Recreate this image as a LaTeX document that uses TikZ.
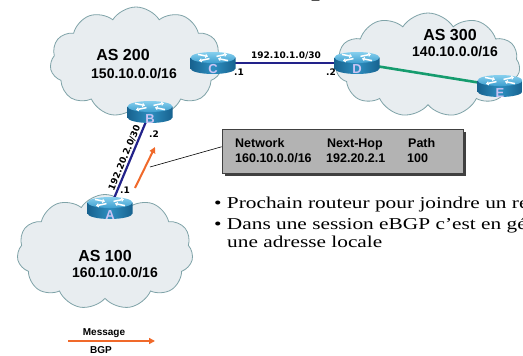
\documentclass[tikz,border=0pt]{standalone}
\usepackage{fontspec}
\setmainfont{Liberation Sans}
\newfontfamily\bulletfont[FakeStretch=1.285]{Liberation Serif}
\newfontfamily\titlefont{Liberation Serif}
\newfontfamily\smallfont{DejaVu Sans}
\usetikzlibrary{shapes.symbols,arrows.meta,calc}
\definecolor{cloudfill}{HTML}{E8EDF0}
\definecolor{cloudline}{HTML}{7FA3A8}
\definecolor{rtop}{HTML}{3E9FCF}
\definecolor{rtoplight}{HTML}{86CFEE}
\definecolor{rside}{HTML}{2E8FC0}
\definecolor{rsidedark}{HTML}{17628F}
\definecolor{rletter}{HTML}{CBC4F4}
\definecolor{navy}{HTML}{22228A}
\definecolor{linkgreen}{HTML}{159C6E}
\definecolor{bgporange}{HTML}{F0692A}
\definecolor{tablegray}{HTML}{B3B3B3}
\definecolor{shadowgray}{HTML}{404040}
\tikzset{
  as cloud/.style={cloud, cloud puffs=11, cloud puff arc=115, cloud ignores aspect,
    draw=cloudline, fill=cloudfill, line width=0.8pt, inner sep=0pt},
  rarrow/.style={white, line width=1.5pt, -{Triangle[length=2.6pt,width=4.2pt]}},
  routerbox/.style={minimum width=46pt, minimum height=23pt, inner sep=0pt},
  routerletter/.style={text=rletter, font=\fontsize{13}{13}\selectfont\bfseries, inner sep=0pt, anchor=base},
  aslabel/.style={font=\fontsize{16}{16}\selectfont\bfseries, inner sep=0pt},
  netlabel/.style={font=\fontsize{14}{14}\selectfont\bfseries, inner sep=0pt},
  linklabel/.style={font=\smallfont\fontsize{9}{9}\selectfont\bfseries, inner sep=0.5pt},
  link/.style={navy, line width=1.8pt},
  greenlink/.style={linkgreen, line width=2.6pt},
  bgp/.style={bgporange, line width=2pt, -{Triangle[length=6pt,width=6pt]}},
  tabletext/.style={font=\fontsize{12.5}{12.5}\selectfont\bfseries, inner sep=0pt, anchor=base west},
  bullettext/.style={font=\bulletfont\fontsize{16.6}{16.6}\selectfont, inner sep=0pt, anchor=base west},
  legendtext/.style={font=\fontsize{10}{10}\selectfont\bfseries, inner sep=0pt}
}
% router icon: #1 node name, #2 position coordinate, #3 letter
\newcommand\drawrouter[3]{%
  \begin{scope}[shift={(#2)}]
    \shade[left color=rsidedark, right color=rsidedark, middle color=rside]
      (-22.5,5.5) -- (-22.5,-5.5) arc[start angle=180, end angle=360, x radius=22.5, y radius=5.5]
      -- (22.5,5.5) -- cycle;
    \shade[top color=rtoplight, bottom color=rtop] (0,5.5) ellipse[x radius=22.5, y radius=5.5];
    \draw[rarrow] (-15,8.6) -- (-5,6.6);
    \draw[rarrow] (15,2.4) -- (5,4.4);
    \draw[rarrow] (3.5,6.6) -- (14,8.8);
    \draw[rarrow] (-3.5,4.4) -- (-14,2.2);
  \end{scope}
  \node[routerbox] (#1) at (#2) {};
  \node[routerletter] (#1letter) at ($(#2)+(0,-11)$) {#3};
}
\begin{document}
\begin{tikzpicture}[x=1pt,y=1pt]
  \useasboundingbox (0,0) rectangle (523,-356);
  \fill[white] (0,0) rectangle (523,-356);
  \clip (0,0) rectangle (523,-356);

  % title fragment
  \node[font=\titlefont\fontsize{36}{36}\selectfont, inner sep=0pt, anchor=base west] (title) at (311,6.5) {p};

  % clouds
  \node[as cloud, minimum width=172pt, minimum height=110pt] (cloud200) at (136,-62) {};
  \node[as cloud, minimum width=184pt, minimum height=104pt] (cloud300) at (428,-65) {};
  \node[as cloud, minimum width=176pt, minimum height=115pt] (cloud100) at (105,-252) {};

  % router positions
  \path (213,-63) coordinate (Cpos) (150,-112) coordinate (Bpos) (357,-63) coordinate (Dpos)
        (500,-86) coordinate (Epos) (110,-208) coordinate (Apos);

  % links
  \draw[link] (Cpos) -- (Dpos);
  \draw[greenlink] (Dpos) -- (Epos);
  \draw[link, line width=2.2pt] (Apos) -- (Bpos);

  \drawrouter{C}{Cpos}{C}
  \drawrouter{B}{Bpos}{B}
  \drawrouter{D}{Dpos}{D}
  \drawrouter{E}{Epos}{E}
  \drawrouter{A}{Apos}{A}

  % link labels
  \node[linklabel] (lcd) at (286,-56) {192.10.1.0/30};
  \node[linklabel] (c1) at (239,-72) {.1};
  \node[linklabel] (d2) at (331,-72) {.2};
  \path (A) -- (B) node[linklabel, midway, sloped, above=1.5pt] (lab) {192.20.2.0/30};
  \node[linklabel] (b2) at (154,-134) {.2};
  \node[linklabel] (a1) at (125,-190) {.1};

  % AS labels
  \node[aslabel] (as200) at (123,-55) {AS 200};
  \node[netlabel] (net200) at (134,-74) {150.10.0.0/16};
  \node[aslabel] (as300) at (450,-35) {AS 300};
  \node[netlabel] (net300) at (455,-52) {140.10.0.0/16};
  \node[aslabel] (as100) at (105,-256) {AS 100};
  \node[netlabel] (net100) at (115,-273) {160.10.0.0/16};

  % BGP message arrow
  \coordinate (bgpstart) at (135,-188);
  \coordinate (bgpend) at (155,-147);
  \draw[bgp] (bgpstart) -- (bgpend);

  % table
  \fill[shadowgray] (225,-132) rectangle (466,-176);
  \node[draw=shadowgray, line width=0.8pt, fill=tablegray, minimum width=241pt, minimum height=44pt,
        inner sep=0pt] (table) at (342.5,-151) {};
  \node[tabletext] (t1) at (235,-147) {Network};
  \node[tabletext] (t2) at (327,-147) {Next-Hop};
  \node[tabletext] (t3) at (408,-147) {Path};
  \node[tabletext] (t4) at (235,-162) {160.10.0.0/16};
  \node[tabletext] (t5) at (326,-162) {192.20.2.1};
  \node[tabletext] (t6) at (407,-162) {100};
  \coordinate (callout) at (150,-167);
  \draw[black, line width=0.6pt] (callout) -- (table.178);

  % bullets
  \node[bullettext] (bul1) at (214,-208) {\textbullet\ Prochain routeur pour joindre un réseau};
  \node[bullettext] (bul2) at (214,-229) {\textbullet\ Dans une session eBGP c’est en général};
  \node[bullettext] (bul3) at (227,-247) {une adresse locale};

  % legend
  \coordinate (legstart) at (68,-341);
  \coordinate (legend) at (155,-341);
  \draw[bgp] (legstart) -- (legend);
  \node[legendtext] (msg) at (104,-333) {Message};
  \node[legendtext] (bgplab) at (101,-350) {BGP};
\end{tikzpicture}
\end{document}
